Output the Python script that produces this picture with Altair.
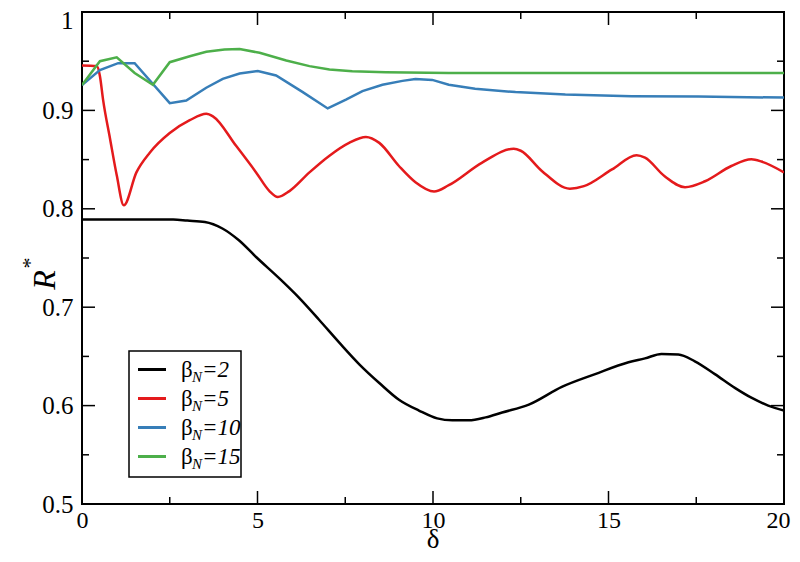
import altair as alt
import pandas as pd

# ---- data ----
series_names = ["βN=2", "βN=5", "βN=10", "βN=15"]
series_colors = ["#000000", "#e41a1c", "#377eb8", "#4daf4a"]

b2_x = [0, 1, 2, 2.6, 3.0, 3.5, 4.0, 4.47, 4.96, 5.63, 6.2, 6.76, 7.33, 7.9, 8.47, 9.03, 9.6,
        10.12, 10.55, 11.02, 11.5, 11.97, 12.73, 13.67, 14.62, 15.57, 16.04, 16.51, 16.99,
        17.46, 18.03, 18.6, 19.07, 19.55, 20]
b2_y = [0.789, 0.789, 0.789, 0.789, 0.788, 0.7866, 0.780, 0.768, 0.751, 0.729, 0.709, 0.687,
        0.664, 0.642, 0.623, 0.606, 0.595, 0.587, 0.585, 0.585, 0.588, 0.593, 0.601, 0.619,
        0.632, 0.644, 0.648, 0.6525, 0.652, 0.645, 0.632, 0.618, 0.608, 0.600, 0.595]

b5_x = [0, 0.42, 0.51, 0.6, 0.8, 0.99, 1.19, 1.55, 1.93, 2.5, 3.07, 3.54, 3.73, 4.39, 4.96,
        5.34, 5.58, 5.91, 6.48, 7.05, 7.61, 8.09, 8.47, 9.03, 9.5, 10.03, 10.45, 11.4, 12.3,
        12.5, 13.1, 13.9, 14.3, 15.1, 15.8, 16.04, 16.6, 17.18, 17.75, 18.5, 19.07, 19.36, 20]
b5_y = [0.9456, 0.945, 0.935, 0.911, 0.871, 0.834, 0.8035, 0.837, 0.857, 0.877, 0.890, 0.8966,
        0.894, 0.864, 0.837, 0.818, 0.812, 0.818, 0.837, 0.854, 0.867, 0.873, 0.867, 0.8435,
        0.827, 0.8175, 0.824, 0.847, 0.861, 0.859, 0.8385, 0.8205, 0.823, 0.840, 0.8545,
        0.852, 0.833, 0.822, 0.828, 0.8435, 0.8503, 0.848, 0.837]

b10_x = [0, 0.51, 1.03, 1.5, 2.5, 2.97, 3.54, 4.01, 4.49, 5.01, 5.53, 6.29, 7.0, 7.52, 7.99,
         8.56, 9.13, 9.5, 9.98, 10.45, 11.2, 12.35, 13.77, 15.66, 17.56, 20]
b10_y = [0.9257, 0.941, 0.948, 0.948, 0.9074, 0.910, 0.923, 0.932, 0.9375, 0.940, 0.9355,
         0.9186, 0.902, 0.911, 0.9196, 0.926, 0.930, 0.932, 0.931, 0.926, 0.922, 0.9186,
         0.9162, 0.9145, 0.914, 0.913]

b15_x = [0, 0.51, 0.99, 1.5, 2.02, 2.5, 3.07, 3.54, 4.06, 4.49, 5.06, 5.82, 6.48, 7.05, 7.7,
         8.65, 10.45, 15, 20]
b15_y = [0.9257, 0.950, 0.954, 0.938, 0.926, 0.949, 0.955, 0.9595, 0.962, 0.9625, 0.9585,
         0.9507, 0.945, 0.9415, 0.9397, 0.9387, 0.938, 0.938, 0.938]

x_major = [0, 5, 10, 15, 20]
x_minor = [2.5, 7.5, 12.5, 17.5]
y_major = [0.5, 0.6, 0.7, 0.8, 0.9, 1.0]
y_minor = [0.55, 0.65, 0.75, 0.85, 0.95]

legend_values = ["2", "5", "10", "15"]

# ---- build table ----
frames = []
for name, xs, ys in zip(series_names, [b2_x, b5_x, b10_x, b15_x], [b2_y, b5_y, b10_y, b15_y]):
    frames.append(pd.DataFrame({"delta": xs, "R": ys, "series": name}))
df = pd.concat(frames, ignore_index=True)

W, H = 702, 492
PAD = {"left": 74, "top": 4, "right": 8, "bottom": 50}
FONT = "Liberation Serif, Times New Roman, Times, DejaVu Serif, serif"
MAJ, MIN = 13, 7

xscale = alt.Scale(domain=[0, 20], nice=False, zero=False)
yscale = alt.Scale(domain=[0.5, 1.0], nice=False, zero=False)

xaxis = alt.Axis(values=x_major, ticks=False, domain=False, grid=False,
                 labelFont=FONT, labelFontSize=24, labelPadding=4,
                 labelColor="#000", labelFlush=False, format="~g", title=None,
                 labelOffset={"condition": {"test": "datum.value == 20", "value": -6},
                              "value": 0})
yaxis = alt.Axis(values=y_major, ticks=False, domain=False, grid=False,
                 labelFont=FONT, labelFontSize=25, labelPadding=9,
                 labelColor="#000", labelFlush=False, format="~g", title=None,
                 labelBaseline={"condition": {"test": "datum.value == 1", "value": "top"},
                                "value": "middle"},
                 labelOffset={"condition": {"test": "datum.value == 1", "value": -4},
                              "value": 0})

color = alt.Color("series:N", scale=alt.Scale(domain=series_names, range=series_colors),
                  legend=None)

smooth = alt.Chart(df).transform_filter(
    alt.FieldOneOfPredicate(field="series", oneOf=series_names[:2])
).mark_line(strokeWidth=2.5, clip=True, interpolate="monotone").encode(
    x=alt.X("delta:Q", scale=xscale, axis=xaxis),
    y=alt.Y("R:Q", scale=yscale, axis=yaxis),
    color=color, order=alt.Order("delta:Q"), detail="series:N",
)
sharp = alt.Chart(df).transform_filter(
    alt.FieldOneOfPredicate(field="series", oneOf=series_names[2:])
).mark_line(strokeWidth=2.5, clip=True).encode(
    x=alt.X("delta:Q", scale=xscale, axis=xaxis),
    y=alt.Y("R:Q", scale=yscale, axis=yaxis),
    color=color, order=alt.Order("delta:Q"), detail="series:N",
)


def xticks(vals, length, top):
    d = pd.DataFrame({"delta": vals})
    if top:
        ya, yb = 0, length
    else:
        ya, yb = H, H - length
    return alt.Chart(d).mark_rule(color="#000", strokeWidth=1.5).encode(
        x=alt.X("delta:Q", scale=xscale, axis=xaxis),
        y=alt.value(ya), y2=alt.value(yb))


def yticks(vals, length, right):
    d = pd.DataFrame({"R": vals})
    if right:
        xa, xb = W, W - length
    else:
        xa, xb = 0, length
    return alt.Chart(d).mark_rule(color="#000", strokeWidth=1.5).encode(
        y=alt.Y("R:Q", scale=yscale, axis=yaxis),
        x=alt.value(xa), x2=alt.value(xb))


ticks = [xticks(x_major, MAJ, False), xticks(x_minor, MIN, False),
         xticks(x_major, MAJ, True), xticks(x_minor, MIN, True),
         yticks(y_major, MAJ, False), yticks(y_minor, MIN, False),
         yticks(y_major, MAJ, True), yticks(y_minor, MIN, True)]

one = pd.DataFrame({"a": [0]})

# legend box
leg_box = alt.Chart(one).mark_rect(fill="white", stroke="#000", strokeWidth=1.5).encode(
    x=alt.value(47), x2=alt.value(159), y=alt.value(339), y2=alt.value(465))

legend_layers = [leg_box]
for i, (val, col) in enumerate(zip(legend_values, series_colors)):
    ly = 357.5 + 29 * i
    legend_layers.append(alt.Chart(one).mark_rule(color=col, strokeWidth=3).encode(
        x=alt.value(56), x2=alt.value(84), y=alt.value(ly)))
    legend_layers.append(alt.Chart(one).mark_text(
        text="β", font=FONT, fontSize=23, align="left", baseline="middle", color="#000").encode(
        x=alt.value(99), y=alt.value(ly)))
    legend_layers.append(alt.Chart(one).mark_text(
        text="N", font=FONT, fontSize=15, fontStyle="italic", align="left",
        baseline="middle", color="#000").encode(x=alt.value(110), y=alt.value(ly + 7)))
    legend_layers.append(alt.Chart(one).mark_text(
        text="=" + val, font=FONT, fontSize=23, fontStyle="italic", align="left",
        baseline="middle", color="#000").encode(x=alt.value(120), y=alt.value(ly)))

# axis titles
ytitle_R = alt.Chart(one).mark_text(
    text="R", font=FONT, fontSize=32, fontStyle="italic", angle=270,
    align="center", baseline="middle", color="#000").encode(
    x=alt.value(-37), y=alt.value(268))
ytitle_star = alt.Chart(one).mark_text(
    text="*", font=FONT, fontSize=22, angle=270,
    align="center", baseline="middle", color="#000").encode(
    x=alt.value(-52), y=alt.value(251))
xtitle = alt.Chart(one).mark_text(
    text="δ", font=FONT, fontSize=27, align="center", baseline="bottom",
    color="#000").encode(x=alt.value(W / 2), y=alt.value(H + PAD["bottom"]))

chart = alt.layer(smooth, sharp, *ticks, *legend_layers,
                  ytitle_R, ytitle_star, xtitle).properties(
    width=W, height=H,
    padding=PAD,
    autosize=alt.AutoSizeParams(type="none"),
    background="white",
).configure_view(stroke="#000", strokeWidth=2)

chart.save("out.html", embed_options={"renderer": "svg", "actions": False})
